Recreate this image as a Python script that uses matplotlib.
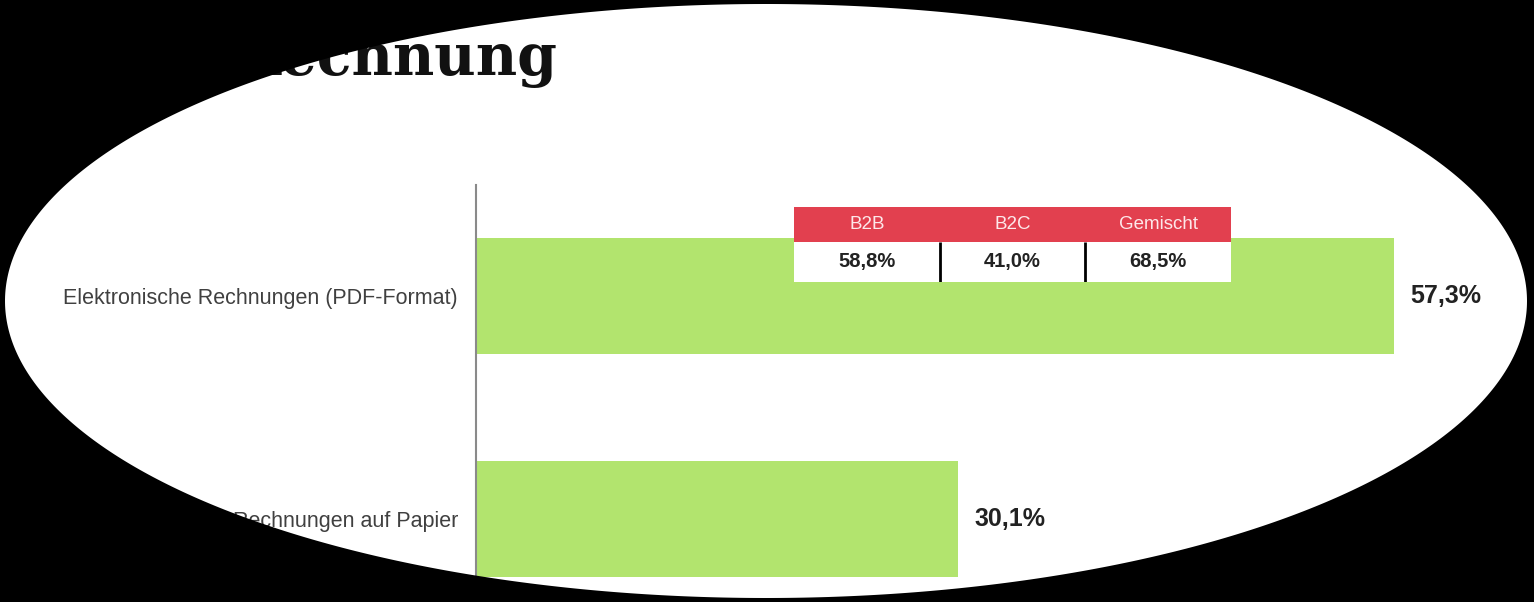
#!/usr/bin/env python3
import matplotlib
matplotlib.use("Agg")
import matplotlib.pyplot as plt
import numpy as np
from matplotlib.path import Path
from matplotlib.patches import PathPatch

# chart data
categories = ["Elektronische Rechnungen (PDF-Format)", "Rechnungen auf Papier"]
shares = [57.3, 30.1]

table_headers = ["B2B", "B2C", "Gemischt"]
table_values = [58.8, 41.0, 68.5]

title = "Rechnung"

bar_color = "#b2e46e"
header_color = "#e2404f"

W, H = 1534, 602
fig = plt.figure(figsize=(W / 100, H / 100), dpi=100)
fig.patch.set_facecolor("white")


def fmt(v):
    return f"{v:.1f}".replace(".", ",") + "%"


# main bar chart
ax = fig.add_axes([476 / W, (H - 630.5) / H, 961 / W, 446 / H])
y = np.arange(len(categories))
ax.barh(y, shares, height=0.52, color=bar_color, zorder=2)
ax.set_xlim(0, 60)
ax.set_ylim(len(categories) - 0.5, -0.5)
ax.set_yticks(y)
ax.set_yticklabels(categories, fontsize=15.5, color="#404040", family="Liberation Sans")
ax.tick_params(axis="y", length=0, pad=13)
ax.set_xticks([])
for s in ["top", "right", "bottom"]:
    ax.spines[s].set_visible(False)
ax.spines["left"].set_color("#8a8a8a")
ax.spines["left"].set_linewidth(1.5)
ax.spines["left"].set_zorder(3)

for yi, v in zip(y, shares):
    ax.annotate(fmt(v), xy=(v, yi), xytext=(12, 0), textcoords="offset points",
                ha="left", va="center", fontsize=18, fontweight="bold",
                color="#222222", family="Liberation Sans")

# title (partly hidden by the mask)
fig.text(557 / W, 1 - 75 / H, title, ha="right", va="baseline",
         fontsize=41, fontweight="bold", family="DejaVu Serif", color="#111111")

# small segment table over the first bar
tab = fig.add_axes([794 / W, (H - 282) / H, 437 / W, 75 / H])
tab.set_xlim(0, 3)
tab.set_ylim(0, 1)
tab.axis("off")
split = 40 / 75
cols = np.arange(len(table_headers))
tab.bar(cols, 1 - split, bottom=split, width=1.0, align="edge", color=header_color, linewidth=0)
tab.bar(cols, split, bottom=0, width=1.0, align="edge", color="white", linewidth=0)
tab.vlines(cols[1:], 0, split, color="black", linewidth=2)
for i, (h, v) in enumerate(zip(table_headers, table_values)):
    tab.text(i + 0.5, split + (1 - split) / 2, h, ha="center", va="center",
             fontsize=13.5, color="#fde8ea", family="Liberation Sans")
    tab.text(i + 0.5, split / 2, fmt(v), ha="center", va="center",
             fontsize=14.5, fontweight="bold", color="#222222", family="Liberation Sans")

# black frame with elliptical window
mask = fig.add_axes([0, 0, 1, 1], zorder=10)
mask.set_xlim(0, W)
mask.set_ylim(H, 0)
mask.axis("off")
mask.patch.set_alpha(0)
cx, cy, a, b = 766, 301, 761, 297
t = np.linspace(0, 2 * np.pi, 600)[::-1]
ell = np.column_stack([cx + a * np.cos(t), cy + b * np.sin(t)])
rect = np.array([[-10, -10], [W + 10, -10], [W + 10, H + 10], [-10, H + 10], [-10, -10]])
verts = np.vstack([rect, ell, ell[:1]])
codes = ([Path.MOVETO] + [Path.LINETO] * 3 + [Path.CLOSEPOLY]
         + [Path.MOVETO] + [Path.LINETO] * (len(ell) - 1) + [Path.CLOSEPOLY])
mask.add_patch(PathPatch(Path(verts, codes), facecolor="black", edgecolor="none"))

fig.savefig("out.png", dpi=100, facecolor=fig.get_facecolor())
